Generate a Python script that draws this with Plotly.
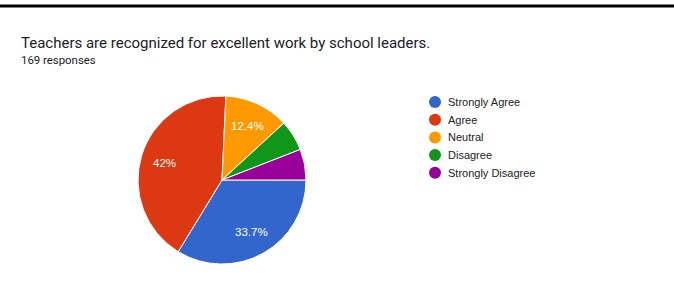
import math
import plotly.graph_objects as go

title = "Teachers are recognized for excellent work by school leaders."
subtitle = "169 responses"
categories = ["Strongly Agree", "Agree", "Neutral", "Disagree", "Strongly Disagree"]
counts = [57, 71, 21, 10, 10]
colors = ["#3366cc", "#dc3912", "#ff9900", "#109618", "#990099"]

total = sum(counts)
labels_text = []
for c in counts:
    p = c / total * 100
    if p < 7:
        labels_text.append("")
    else:
        s = f"{p:.1f}"
        if s.endswith(".0"):
            s = s[:-2]
        labels_text.append(s + "%")

W, H = 674, 289
cx, cy, r = 222, 180, 84
start_deg = 90  # first slice starts at 3 o'clock, clockwise

fig = go.Figure()
fig.add_trace(go.Pie(
    labels=categories, values=counts, textinfo="none",
    marker=dict(colors=colors, line=dict(color="white", width=1)),
    sort=False, direction="clockwise", rotation=start_deg,
    showlegend=False, hoverinfo="label+percent",
    domain=dict(x=[(cx - r) / W, (cx + r) / W], y=[1 - (cy + r) / H, 1 - (cy - r) / H]),
))

# slice labels placed along each slice's mid-angle (Google Forms style)
annotations = []
acc = 0
for c, t in zip(counts, labels_text):
    mid = start_deg + (acc + c / 2) / total * 360
    acc += c
    if not t:
        continue
    a = math.radians(mid)
    lx = cx + 0.71 * r * math.sin(a)
    ly = cy - 0.71 * r * math.cos(a)
    annotations.append(dict(text=t, x=lx / W, y=1 - ly / H, xref="paper", yref="paper",
                            xanchor="center", yanchor="middle", showarrow=False,
                            font=dict(size=11.5, family="Liberation Sans, Arial", color="white")))

# legend (circle markers + labels)
leg_x, leg_y0, leg_dy = 435, 102, 17.7
leg_ys = [leg_y0 + i * leg_dy for i in range(len(categories))]
fig.add_trace(go.Scatter(
    x=[leg_x] * len(categories), y=leg_ys, mode="markers",
    marker=dict(symbol="circle", size=12, color=colors),
    showlegend=False, hoverinfo="skip",
))
for cat, yy in zip(categories, leg_ys):
    annotations.append(dict(text=cat, x=(leg_x + 10.5) / W, y=1 - yy / H, xref="paper", yref="paper",
                            xanchor="left", yanchor="middle", showarrow=False,
                            font=dict(size=11, family="Liberation Sans, Arial", color="#222222")))

annotations += [
    dict(text=title, x=19 / W, y=1 - 43 / H, xref="paper", yref="paper",
         xanchor="left", yanchor="middle", showarrow=False,
         font=dict(size=15, family="Roboto", color="#202124")),
    dict(text=subtitle, x=19 / W, y=1 - 60 / H, xref="paper", yref="paper",
         xanchor="left", yanchor="middle", showarrow=False,
         font=dict(size=11.4, family="Roboto", color="#202124")),
]

fig.update_layout(
    width=W, height=H,
    margin=dict(l=0, r=0, t=0, b=0),
    paper_bgcolor="white", plot_bgcolor="rgba(0,0,0,0)",
    xaxis=dict(visible=False, range=[0, W], domain=[0, 1], fixedrange=True),
    yaxis=dict(visible=False, range=[H, 0], domain=[0, 1], fixedrange=True),
    showlegend=False,
    annotations=annotations,
    shapes=[dict(type="line", xref="paper", yref="paper", x0=0, x1=1,
                 y0=1 - 6 / H, y1=1 - 6 / H, line=dict(color="black", width=3))],
)

fig.write_html("out.html", post_script="document.body.style.margin='0';",
               config={"displayModeBar": False})
